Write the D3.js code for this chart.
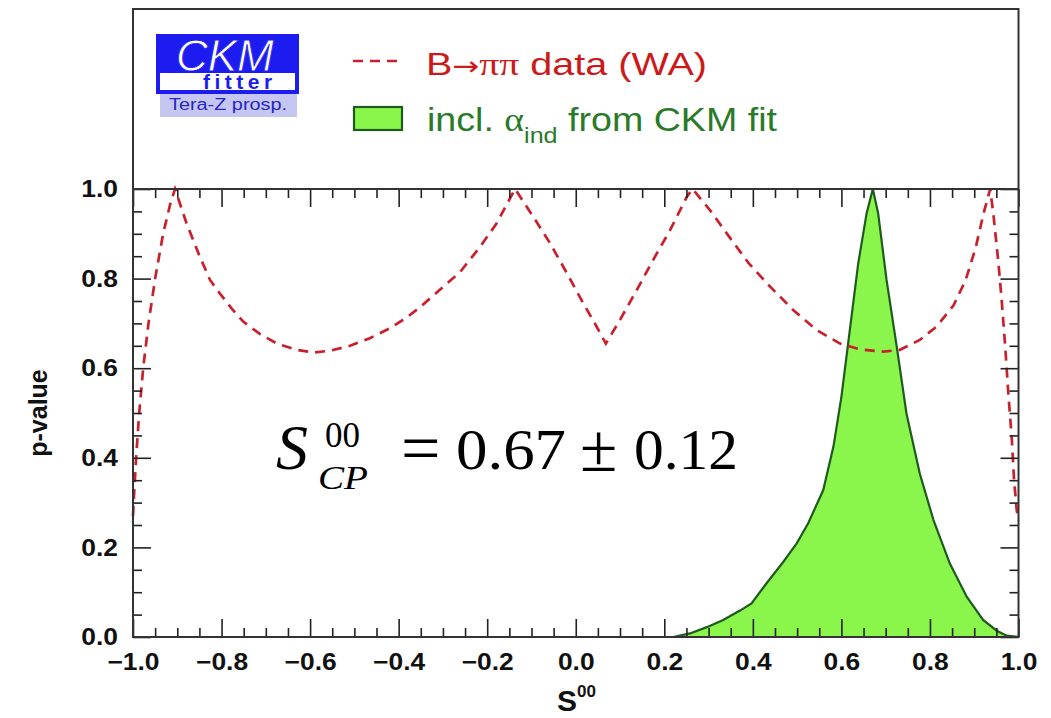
<!DOCTYPE html>
<html><head><meta charset="utf-8">
<script src="https://cdn.jsdelivr.net/npm/d3@7"></script>
<style>body{margin:0;background:#fff}svg{display:block}</style>
</head><body><svg id="c" width="1051" height="718"></svg>
<script>
// ---- data ----
const redS = [-1.000,-0.998,-0.993,-0.986,-0.977,-0.965,-0.950,-0.932,-0.915,-0.905,-0.879,-0.849,-0.826,-0.804,-0.777,-0.751,-0.713,-0.675,-0.630,-0.593,-0.555,-0.510,-0.465,-0.420,-0.382,-0.352,-0.307,-0.261,-0.216,-0.179,-0.137,-0.096,-0.058,-0.020,0.017,0.047,0.068,0.100,0.138,0.175,0.213,0.251,0.264,0.303,0.341,0.390,0.439,0.491,0.544,0.597,0.642,0.695,0.732,0.777,0.815,0.853,0.880,0.903,0.921,0.936,0.943,0.954,0.962,0.970,0.977,0.985,0.990,0.996,1.000];
const redP = [0.27,0.31,0.40,0.50,0.60,0.70,0.80,0.90,0.97,1.00,0.923,0.849,0.797,0.767,0.733,0.704,0.676,0.655,0.641,0.635,0.639,0.650,0.667,0.689,0.713,0.736,0.775,0.815,0.871,0.923,1.00,0.938,0.879,0.812,0.745,0.693,0.655,0.708,0.775,0.842,0.908,0.983,1.00,0.953,0.901,0.835,0.782,0.730,0.685,0.655,0.642,0.637,0.641,0.663,0.693,0.740,0.795,0.868,0.945,1.00,0.946,0.842,0.752,0.648,0.544,0.44,0.35,0.283,0.26];
const greenS = [-1.0,0.20,0.22,0.258,0.296,0.333,0.371,0.397,0.431,0.469,0.499,0.525,0.559,0.582,0.600,0.619,0.638,0.657,0.671,0.683,0.702,0.725,0.747,0.777,0.808,0.845,0.883,0.920,0.951,0.973,1.0];
const greenP = [0,0,0,0.008,0.022,0.038,0.059,0.075,0.12,0.168,0.209,0.254,0.328,0.425,0.536,0.685,0.834,0.946,1.0,0.946,0.797,0.648,0.499,0.365,0.261,0.164,0.090,0.038,0.014,0.003,0];
const xMajor = [-1.0,-0.8,-0.6,-0.4,-0.2,0.0,0.2,0.4,0.6,0.8,1.0];
const yMajor = [0.0,0.2,0.4,0.6,0.8,1.0];

// ---- layout ----
const svg = d3.select("#c");
const L=133, R=1018.5, T=189, B=637, TOP=9;
const x = d3.scaleLinear().domain([-1,1]).range([L,R]);
const y = d3.scaleLinear().domain([0,1]).range([B,T]);
const xMinor = d3.range(-1,1.0001,0.05).map(v=>+v.toFixed(2)).filter(v=>!xMajor.some(m=>Math.abs(m-v)<1e-6));
const yMinor = d3.range(0,1.0001,0.05).map(v=>+v.toFixed(2)).filter(v=>!yMajor.some(m=>Math.abs(m-v)<1e-6));
const SANS="Liberation Sans, Arial, Helvetica, sans-serif";
const SF="Liberation Serif, Times New Roman, serif";

svg.append("rect").attr("width",1051).attr("height",718).attr("fill","#fff");

const RED="#c8202c", GFILL="#8af54b", GLINE="#1f5a1f";

// green area
const gData = greenS.map((s,i)=>[s,greenP[i]]);
svg.append("path").datum(gData)
  .attr("d", d3.area().x(d=>x(d[0])).y0(y(0)).y1(d=>y(d[1])))
  .attr("fill",GFILL);
svg.append("path").datum(gData)
  .attr("d", d3.line().x(d=>x(d[0])).y(d=>y(d[1])))
  .attr("fill","none").attr("stroke",GLINE).attr("stroke-width",2.2);

// red dashed
const rData = redS.map((s,i)=>[s,redP[i]]);
svg.append("path").datum(rData)
  .attr("d", d3.line().x(d=>x(d[0])).y(d=>y(d[1])))
  .attr("fill","none").attr("stroke",RED).attr("stroke-width",2.7)
  .attr("stroke-dasharray","10,7");

// axes
function styleAxis(g){g.select(".domain").remove();g.selectAll("line").attr("stroke","#222").attr("stroke-width",1.6);}
function styleLabels(g){
  g.selectAll("text").attr("font-family",SANS).attr("font-weight","bold").attr("font-size",24).attr("fill","#111")
   .each(function(){const w=this.getComputedTextLength(); d3.select(this).attr("textLength",w*1.1).attr("lengthAdjust","spacingAndGlyphs");});
}
const fmt = d3.format(".1f");
svg.append("g").attr("transform",`translate(0,${B})`)
  .call(d3.axisBottom(x).tickValues(xMajor).tickSizeInner(-18).tickSizeOuter(0).tickPadding(16).tickFormat(fmt))
  .call(styleAxis).call(styleLabels);
svg.append("g").attr("transform",`translate(0,${B})`)
  .call(d3.axisBottom(x).tickValues(xMinor).tickSizeInner(-9).tickSizeOuter(0).tickFormat(""))
  .call(styleAxis);
svg.append("g").attr("transform",`translate(0,${T})`)
  .call(d3.axisTop(x).tickValues(xMajor).tickSizeInner(-18).tickSizeOuter(0).tickFormat(""))
  .call(styleAxis);
svg.append("g").attr("transform",`translate(0,${T})`)
  .call(d3.axisTop(x).tickValues(xMinor).tickSizeInner(-9).tickSizeOuter(0).tickFormat(""))
  .call(styleAxis);
svg.append("g").attr("transform",`translate(${L},0)`)
  .call(d3.axisLeft(y).tickValues(yMajor).tickSizeInner(-18).tickSizeOuter(0).tickPadding(15).tickFormat(fmt))
  .call(styleAxis).call(styleLabels);
svg.append("g").attr("transform",`translate(${L},0)`)
  .call(d3.axisLeft(y).tickValues(yMinor).tickSizeInner(-9).tickSizeOuter(0).tickFormat(""))
  .call(styleAxis);
svg.append("g").attr("transform",`translate(${R},0)`)
  .call(d3.axisRight(y).tickValues(yMajor).tickSizeInner(-18).tickSizeOuter(0).tickFormat(""))
  .call(styleAxis);
svg.append("g").attr("transform",`translate(${R},0)`)
  .call(d3.axisRight(y).tickValues(yMinor).tickSizeInner(-9).tickSizeOuter(0).tickFormat(""))
  .call(styleAxis);

// frames
svg.append("rect").attr("x",L).attr("y",TOP).attr("width",R-L).attr("height",B-TOP)
  .attr("fill","none").attr("stroke","#333").attr("stroke-width",2);
svg.append("line").attr("x1",L).attr("x2",R).attr("y1",T).attr("y2",T).attr("stroke","#333").attr("stroke-width",2);

// axis titles
svg.append("text").attr("transform","translate(47,413) rotate(-90)").attr("text-anchor","middle")
  .attr("font-family",SANS).attr("font-weight","bold").attr("font-size",25).attr("fill","#111").text("p-value");
const xt = svg.append("text").attr("x",557).attr("y",711)
  .attr("font-family",SANS).attr("font-weight","bold").attr("font-size",30).attr("fill","#111");
xt.append("tspan").text("S");
xt.append("tspan").attr("dy",-14).attr("font-size",17).text("00");

// formula
svg.append("text").attr("x",276).attr("y",469).attr("font-family",SF).attr("font-style","italic").attr("font-size",64).text("S");
svg.append("text").attr("x",325).attr("y",447).attr("font-family",SF).attr("font-size",35).text("00");
svg.append("text").attr("x",318).attr("y",489).attr("font-family",SF).attr("font-style","italic").attr("font-size",34).attr("textLength",50).attr("lengthAdjust","spacingAndGlyphs").text("CP");
svg.append("text").attr("x",401).attr("y",472).attr("font-family",SF).attr("font-size",70).text("=");
svg.append("text").attr("x",456).attr("y",469).attr("font-family",SF).attr("font-size",58).attr("textLength",110).attr("lengthAdjust","spacingAndGlyphs").text("0.67");
svg.append("text").attr("x",580).attr("y",471).attr("font-family",SF).attr("font-size",68).text("\u00b1");
svg.append("text").attr("x",634).attr("y",469).attr("font-family",SF).attr("font-size",58).attr("textLength",104).attr("lengthAdjust","spacingAndGlyphs").text("0.12");

// logo
const lg = svg.append("g");
lg.append("rect").attr("x",160).attr("y",93).attr("width",137).attr("height",24).attr("fill","#c6c6f2");
lg.append("rect").attr("x",156).attr("y",34).attr("width",143).attr("height",60).attr("fill","#1c1cf0");
lg.append("rect").attr("x",160).attr("y",73).attr("width",135).attr("height",17).attr("fill","#fff");
const lt = lg.append("text").attr("font-family",SANS);
lt.append("tspan").attr("x",176).attr("y",71).attr("font-style","italic").attr("font-size",44)
  .attr("fill","#fff").attr("stroke","#1c1cf0").attr("stroke-width",0.8).text("CKM");
lt.append("tspan").attr("x",203).attr("y",89).attr("font-weight","bold").attr("font-size",21)
  .attr("letter-spacing",4.5).attr("fill","#1c1cf0").text("fitter");
lg.append("text").attr("x",169).attr("y",110).attr("font-family",SANS)
  .attr("font-size",16).attr("textLength",118).attr("lengthAdjust","spacingAndGlyphs").attr("fill","#2626c0").text("Tera-Z prosp.");

// legend
svg.append("line").attr("x1",353).attr("x2",403).attr("y1",61).attr("y2",61).attr("stroke",RED).attr("stroke-width",2.7).attr("stroke-dasharray","10,7");
const rt = svg.append("text").attr("x",426).attr("y",75).attr("font-family",SANS).attr("font-size",32)
  .attr("textLength",281).attr("lengthAdjust","spacingAndGlyphs").attr("fill","#cc1a1a");
rt.append("tspan").text("B");
rt.append("tspan").attr("font-family","DejaVu Sans, sans-serif").attr("font-size",26).text("\u2192");
rt.append("tspan").attr("font-family",SF).text("\u03c0\u03c0");
rt.append("tspan").text(" data (WA)");
svg.append("rect").attr("x",354).attr("y",107).attr("width",48).attr("height",23).attr("fill",GFILL).attr("stroke",GLINE).attr("stroke-width",2.2);
const gt = svg.append("text").attr("x",427).attr("y",131).attr("font-family",SANS).attr("font-size",33)
  .attr("textLength",350).attr("lengthAdjust","spacingAndGlyphs").attr("fill","#2a7a28");
gt.append("tspan").text("incl. ");
gt.append("tspan").attr("font-family",SF).text("\u03b1");
gt.append("tspan").attr("dy",12).attr("font-size",22).text("ind");
gt.append("tspan").attr("dy",-12).text(" from CKM fit");
</script></body></html>
